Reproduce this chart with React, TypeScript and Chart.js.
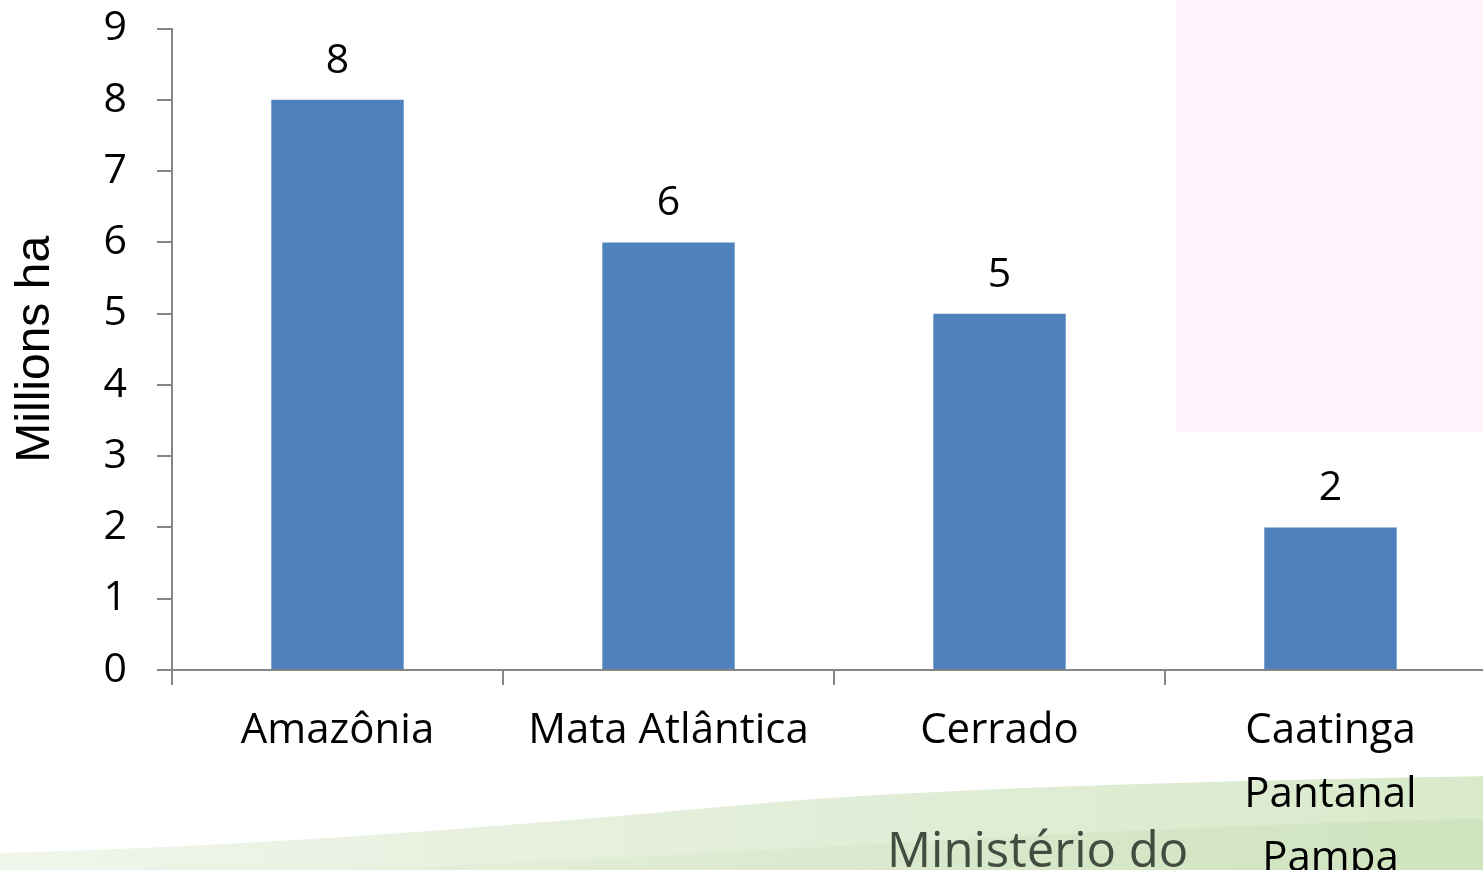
import React, { useEffect, useRef } from "react";
import { Chart, registerables } from "chart.js";

Chart.register(...registerables);

const categories: (string | string[])[] = [
  "Amazônia",
  "Mata Atlântica",
  "Cerrado",
  ["Caatinga", "Pantanal", "Pampa"],
];
const values = [8, 6, 5, 2];
const yMin = 0;
const yMax = 9;
const yStep = 1;
const yTitle = "Millions ha";
const footerText = "Ministério do";

const AXIS = "#868686";
const BAR = "#4f81bd";
const FONT = "'Open Sans', 'Liberation Sans', sans-serif";
const SHIFT = 26; // canvas is drawn taller and shifted up by this amount

const backgroundPlugin = {
  id: "slideBackground",
  beforeDraw(chart: any) {
    const { ctx, width, height } = chart;
    ctx.save();
    ctx.fillStyle = "#ffffff";
    ctx.fillRect(0, 0, width, height);
    ctx.translate(0, SHIFT);
    const H = height - SHIFT;
    // pink panel top-right
    ctx.fillStyle = "#fdf3fc";
    ctx.fillRect(1176, -SHIFT, width - 1176, 432 + SHIFT);
    // green swoosh at bottom
    const g = ctx.createLinearGradient(0, 0, width, 0);
    g.addColorStop(0, "#f0f6eb");
    g.addColorStop(0.5, "#e3eed9");
    g.addColorStop(1, "#d9eacb");
    ctx.fillStyle = g;
    ctx.beginPath();
    ctx.moveTo(0, H);
    ctx.lineTo(0, 853);
    ctx.bezierCurveTo(300, 845, 550, 822, 800, 800);
    ctx.bezierCurveTo(1000, 786, 1250, 780, width, 776);
    ctx.lineTo(width, H);
    ctx.closePath();
    ctx.fill();
    const g2 = ctx.createLinearGradient(0, 0, width, 0);
    g2.addColorStop(0, "rgba(205,225,185,0.0)");
    g2.addColorStop(0.6, "rgba(200,222,180,0.3)");
    g2.addColorStop(1, "rgba(195,220,175,0.45)");
    ctx.fillStyle = g2;
    ctx.beginPath();
    ctx.moveTo(300, H);
    ctx.bezierCurveTo(700, 860, 1000, 830, width, 818);
    ctx.lineTo(width, H);
    ctx.closePath();
    ctx.fill();
    // footer logo text
    ctx.fillStyle = "#424c40";
    ctx.font = `49px ${FONT}`;
    ctx.textAlign = "left";
    ctx.textBaseline = "alphabetic";
    ctx.fillText(footerText, 887, 867);
    ctx.restore();
  },
};

const valueLabelPlugin = {
  id: "valueLabels",
  afterDatasetsDraw(chart: any) {
    const { ctx } = chart;
    const meta = chart.getDatasetMeta(0);
    ctx.save();
    ctx.fillStyle = "#000000";
    ctx.font = `41px ${FONT}`;
    ctx.textAlign = "center";
    ctx.textBaseline = "alphabetic";
    meta.data.forEach((bar: any, i: number) => {
      ctx.fillText(String(values[i]), bar.x, bar.y - 27);
    });
    ctx.restore();
  },
};

export default function App() {
  const canvasRef = useRef<HTMLCanvasElement | null>(null);

  useEffect(() => {
    if (!canvasRef.current) return;
    const chart = new Chart(canvasRef.current, {
      type: "bar",
      data: {
        labels: categories as any,
        datasets: [
          {
            data: values,
            backgroundColor: BAR,
            borderWidth: 0,
            barPercentage: 0.4,
            categoryPercentage: 1,
          },
        ],
      },
      options: {
        responsive: false,
        animation: false,
        devicePixelRatio: 1,
        layout: { padding: { top: 1, left: 0, right: 0, bottom: 0 } },
        plugins: {
          legend: { display: false },
          tooltip: { enabled: false },
        },
        scales: {
          x: {
            offset: true,
            grid: {
              display: true,
              drawOnChartArea: false,
              offset: true,
              tickLength: 15,
              color: AXIS,
              lineWidth: 2,
            },
            border: { color: AXIS, width: 2 },
            ticks: {
              color: "#000000",
              font: { family: FONT, size: 42, lineHeight: 1.52 },
              padding: 14,
              maxRotation: 0,
              autoSkip: false,
            },
            afterFit(scale: any) {
              scale.height = 200;
            },
          },
          y: {
            min: yMin,
            max: yMax,
            grid: {
              display: true,
              drawOnChartArea: false,
              tickLength: 15,
              color: AXIS,
              lineWidth: 2,
            },
            border: { color: AXIS, width: 2 },
            ticks: {
              stepSize: yStep,
              color: "#000000",
              font: { family: FONT, size: 41 },
              padding: 30,
            },
            title: {
              display: true,
              text: yTitle,
              color: "#000000",
              font: { family: "'Liberation Sans', Arial, sans-serif", size: 48 },
              padding: { top: 7, bottom: 0 },
            },
            afterFit(scale: any) {
              scale.width = 172;
            },
          },
        },
      },
      plugins: [backgroundPlugin, valueLabelPlugin],
    });
    return () => chart.destroy();
  }, []);

  return (
    <div
      style={{
        position: "absolute",
        left: 0,
        top: 0,
        width: 1483,
        height: 870,
        overflow: "hidden",
        background: "#ffffff",
      }}
    >
      <canvas
        ref={canvasRef}
        width={1496}
        height={870 + SHIFT}
        style={{ display: "block", position: "absolute", left: 0, top: -SHIFT }}
      />
    </div>
  );
}
